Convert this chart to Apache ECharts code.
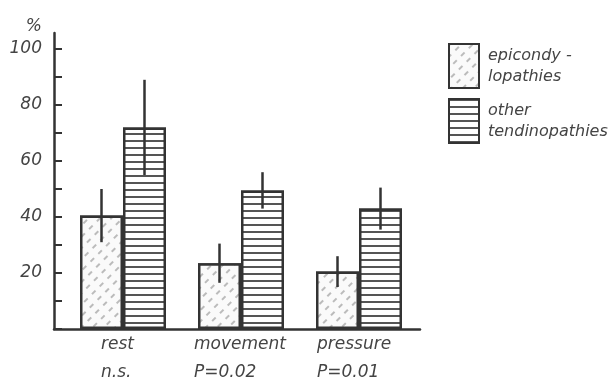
<!DOCTYPE html>
<html><head><meta charset="utf-8">
<script src="https://cdn.jsdelivr.net/npm/echarts@6/dist/echarts.min.js"></script>
<style>html,body{margin:0;padding:0;background:#fff}#c{width:608px;height:382px}</style>
</head><body><div id="c"></div>
<script>
const categories = ['rest', 'movement', 'pressure'];
const pLabels = ['n.s.', 'P=0.02', 'P=0.01'];
const epicValues = [40.5, 23.5, 20.5];
const epicErrors = [9.5, 7, 5.5];
const otherValues = [72, 49.5, 43];
const otherErrors = [17, 6.5, 7.5];
const yTicks = [0, 20, 40, 60, 80, 100];
const legendNames = ['epicondylopathies', 'other tendinopathies'];
const legendText = {'epicondylopathies': 'epicondy -\nlopathies', 'other tendinopathies': 'other\ntendinopathies'};

const FONT = 'DejaVu Sans';
const INK = '#333';
const TXT = '#444';
const BAR_W = 43;
const labelWidths = [44, 94, 84];

const chart = echarts.init(document.getElementById('c'), null, {renderer: 'canvas'});

const rich = {};
labelWidths.forEach((w, i) => {
  rich['r' + i] = {width: w, align: 'left', fontFamily: FONT, fontStyle: 'italic', fontSize: 17, color: TXT, lineHeight: 28};
});

function errSeries(values, errors, side) {
  return {
    type: 'custom',
    xAxisIndex: 0, yAxisIndex: 0,
    data: values.map((v, i) => [i, v - errors[i], v + errors[i]]),
    renderItem: function (params, api) {
      const lo = api.coord([api.value(0), api.value(1)]);
      const hi = api.coord([api.value(0), api.value(2)]);
      const x = lo[0] + side * BAR_W / 2;
      return {type: 'line', shape: {x1: x, y1: lo[1], x2: x, y2: hi[1]},
        style: {stroke: INK, lineWidth: 2.5}, z2: 10};
    },
    z: 5,
    silent: true
  };
}

chart.setOption({
  backgroundColor: '#fff',
  animation: false,
  grid: [
    {left: 64, width: 354, top: 49, bottom: 53},
    {left: 54, width: 366, top: 33, bottom: 53}
  ],
  legend: {
    data: legendNames.map(n => ({name: n, icon: 'rect'})),
    orient: 'vertical',
    left: 443, top: 38,
    itemWidth: 30, itemHeight: 44, itemGap: 9,
    formatter: n => legendText[n],
    textStyle: {fontFamily: FONT, fontStyle: 'italic', fontSize: 16, color: TXT, lineHeight: 21, padding: [0, 0, 0, 4]}
  },
  xAxis: [
    {
      type: 'category', gridIndex: 0, data: categories,
      axisLine: {show: false}, axisTick: {show: false},
      axisLabel: {
        margin: 2, interval: 0,
        formatter: function (v, i) { return '{r' + i + '|' + v + '}\n{r' + i + '|' + pLabels[i] + '}'; },
        rich: rich
      }
    },
    {
      type: 'value', gridIndex: 1, min: 0, max: 1,
      axisLine: {show: true, lineStyle: {color: INK, width: 2.5}},
      axisTick: {show: false}, axisLabel: {show: false}, splitLine: {show: false}
    }
  ],
  yAxis: [
    {
      type: 'value', gridIndex: 0, min: 0, max: 100, interval: 10, offset: 10,
      name: '%', nameLocation: 'end', nameGap: 14,
      nameTextStyle: {fontFamily: FONT, fontStyle: 'italic', fontSize: 17, color: TXT, align: 'right', padding: [0, 12, 0, 0]},
      axisLine: {show: false},
      axisTick: {show: true, inside: true, length: 8, lineStyle: {color: INK, width: 2}},
      splitLine: {show: false},
      axisLabel: {
        margin: 12, fontFamily: FONT, fontStyle: 'italic', fontSize: 17, color: TXT,
        formatter: v => (yTicks.indexOf(v) > 0 ? String(v) : '')
      }
    },
    {
      type: 'value', gridIndex: 1, min: 0, max: 1,
      axisLine: {show: true, lineStyle: {color: INK, width: 2.5}},
      axisTick: {show: false}, axisLabel: {show: false}, splitLine: {show: false}
    }
  ],
  series: [
    {
      name: legendNames[0], type: 'bar', xAxisIndex: 0, yAxisIndex: 0,
      data: epicValues, barWidth: BAR_W, barGap: '0%',
      itemStyle: {
        color: '#fff', borderColor: INK, borderWidth: 2.5,
        decal: {symbol: 'rect', color: '#bbbbbb', backgroundColor: '#fafafa',
          dashArrayX: [[5, 6]], dashArrayY: [1.2, 6], rotation: -Math.PI / 4}
      }
    },
    {
      name: legendNames[1], type: 'bar', xAxisIndex: 0, yAxisIndex: 0,
      data: otherValues, barWidth: BAR_W, barGap: '0%',
      itemStyle: {
        color: '#fff', borderColor: INK, borderWidth: 2.5,
        decal: {symbol: 'rect', color: '#555', backgroundColor: '#fff',
          dashArrayX: [[1, 0]], dashArrayY: [1.5, 4.8], rotation: 0}
      }
    },
    errSeries(epicValues, epicErrors, -1),
    errSeries(otherValues, otherErrors, 1)
  ]
});
</script></body></html>
